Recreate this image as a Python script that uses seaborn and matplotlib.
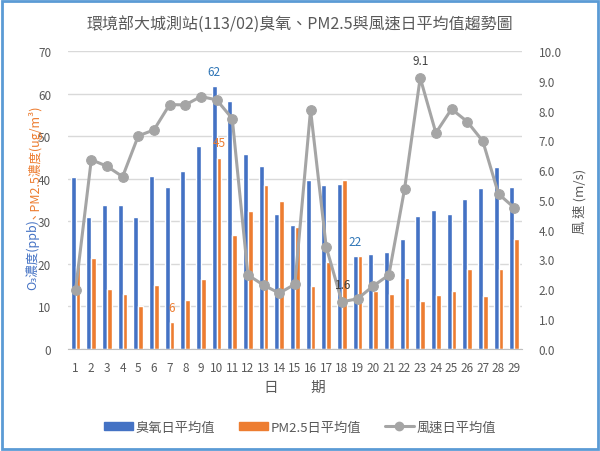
import numpy as np
import pandas as pd
import seaborn as sns
import matplotlib.pyplot as plt
from matplotlib.patches import Rectangle, Patch
from matplotlib.lines import Line2D

# daily averages, Feb 2024 (113/02), Dacheng station
days = [str(d) for d in range(1, 30)]
o3 = [40.5, 31.0, 33.8, 33.8, 30.9, 40.6, 38.0, 41.7, 47.6, 61.7,
      58.3, 45.9, 43.0, 31.7, 29.0, 39.7, 38.4, 38.8, 21.8, 22.4,
      22.8, 25.8, 31.3, 32.7, 31.8, 35.2, 37.7, 42.8, 38.0]
pm25 = [19.4, 21.3, 14.1, 12.9, 10.0, 15.0, 6.3, 11.4, 16.5, 44.9,
        26.7, 32.4, 38.5, 34.7, 28.7, 14.8, 20.3, 39.7, 21.8, 13.5,
        12.9, 16.7, 11.3, 12.7, 13.6, 18.7, 12.5, 18.7, 25.7]
wind = [1.99, 6.35, 6.13, 5.78, 7.15, 7.35, 8.20, 8.19, 8.47, 8.36,
        7.73, 2.48, 2.14, 1.87, 2.17, 8.02, 3.42, 1.58, 1.68, 2.11,
        2.48, 5.36, 9.10, 7.25, 8.05, 7.63, 6.97, 5.20, 4.74]

BLUE = '#4472C4'
ORANGE = '#ED7D31'
GRAY = '#A5A5A5'
TXT = '#595959'

sns.set_style('white')
plt.rcParams['font.family'] = ['Noto Sans CJK TC', 'DejaVu Sans']

df = pd.DataFrame({'day': days, '臭氧日平均值': o3, 'PM2.5日平均值': pm25})
long_df = df.melt(id_vars='day', var_name='series', value_name='value')

fig = plt.figure(figsize=(6, 4.52), dpi=100)
ax = fig.add_axes([0.113, 0.226, 0.757, 0.659])

sns.barplot(data=long_df, x='day', y='value', hue='series', order=days,
            palette=[BLUE, ORANGE], width=0.62, saturation=1, legend=False, ax=ax)
ax.set_xlim(-0.5, len(days) - 0.5)
ax.set_ylim(0, 70)
ax.set_yticks(range(0, 71, 10))
ax.yaxis.grid(True, color='#D9D9D9', lw=1)
ax.set_axisbelow(True)
for s in ['top', 'left', 'right']:
    ax.spines[s].set_visible(False)
ax.spines['bottom'].set_color('#BFBFBF')
ax.tick_params(length=0, labelsize=8.5, colors=TXT)
ax.tick_params(axis='x', pad=9)
ax.tick_params(axis='y', pad=12)
ax.set_xlabel('日　　 期', fontsize=10.5, color=TXT, labelpad=4)
ax.set_ylabel('')

ax2 = ax.twinx()
xpos = np.arange(len(days))
sns.lineplot(x=xpos, y=wind, ax=ax2, color=GRAY, lw=2.2, marker='o',
             markersize=7, markeredgecolor=GRAY)
ax2.set_ylim(0, 10)
ax2.set_yticks(np.arange(0, 10.1, 1))
ax2.set_yticklabels([f'{v:.1f}' for v in np.arange(0, 10.1, 1)])
for s in ['top', 'left', 'right', 'bottom']:
    ax2.spines[s].set_visible(False)
ax2.tick_params(length=0, labelsize=8.5, colors=TXT, pad=12)
ax2.set_ylabel('風 速 (m/s)', fontsize=9.5, color=TXT, labelpad=8)

# data labels for extremes
bw = 0.31
i = int(np.argmax(o3))
ax.annotate(f'{o3[i]:.0f}', (i - bw / 2, o3[i]), xytext=(0, 6), textcoords='offset points',
            ha='center', va='bottom', color='#2E75B6', fontsize=8.5)
i = int(np.argmin(o3))
ax.annotate(f'{o3[i]:.0f}', (i - bw / 2, o3[i]), xytext=(0, 6), textcoords='offset points',
            ha='center', va='bottom', color='#2E75B6', fontsize=8.5)
i = int(np.argmax(pm25))
ax.annotate(f'{pm25[i]:.0f}', (i + bw / 2, pm25[i]), xytext=(0, 6), textcoords='offset points',
            ha='center', va='bottom', color=ORANGE, fontsize=8.5)
i = int(np.argmin(pm25))
ax.annotate(f'{pm25[i]:.0f}', (i + bw / 2, pm25[i]), xytext=(0, 6), textcoords='offset points',
            ha='center', va='bottom', color=ORANGE, fontsize=8.5)
i = int(np.argmin(wind))
ax2.annotate(f'{wind[i]:.1f}', (i, wind[i]), xytext=(1, 8), textcoords='offset points',
             ha='center', va='bottom', color='#404040', fontsize=8.5)
i = int(np.argmax(wind))
ax2.annotate(f'{wind[i]:.1f}', (i, wind[i]), xytext=(0, 8), textcoords='offset points',
             ha='center', va='bottom', color='#404040', fontsize=8.5)

fig.text(0.5, 0.945, '環境部大城測站(113/02)臭氧、PM2.5與風速日平均值趨勢圖',
         ha='center', va='center', fontsize=11.5, color=TXT)

# two-colour left axis title
t1 = fig.text(0.053, 0.358, 'O₃濃度(ppb)', rotation=90, ha='center', va='bottom',
              color=BLUE, fontsize=9)
fig.canvas.draw()
bb = t1.get_window_extent()
fig.text(0.053, bb.y1 / fig.bbox.height, '、PM2.5濃度(ug/m³)', rotation=90,
         ha='center', va='bottom', color=ORANGE, fontsize=9)

handles = [Patch(color=BLUE), Patch(color=ORANGE),
           Line2D([], [], color=GRAY, lw=2.2, marker='o', markersize=6)]
fig.legend(handles, ['臭氧日平均值', 'PM2.5日平均值', '風速日平均值'],
           loc='center', bbox_to_anchor=(0.5, 0.053), ncol=3, frameon=False,
           fontsize=9.5, labelcolor=TXT, handlelength=2.2, handletextpad=0.2,
           columnspacing=1.8, handleheight=0.5)

fig.add_artist(Rectangle((0.004, 0.004), 0.992, 0.992, transform=fig.transFigure,
                         fill=False, ec='#5B9BD5', lw=2))

fig.savefig('out.png', dpi=100)
